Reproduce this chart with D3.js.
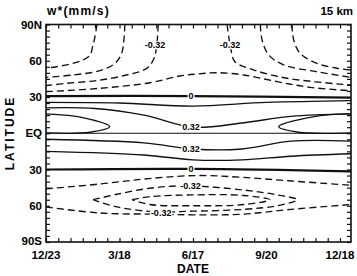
<!DOCTYPE html>
<html><head><meta charset="utf-8">
<script src="https://cdn.jsdelivr.net/npm/d3@7"></script>
<style>body{margin:0;background:#fff}svg{display:block}</style>
</head><body><svg id="c" width="357" height="276"></svg>
<script>
// x in months from 12/23 (0..12.45), y in latitude (deg, + = N)
const dateTicks = [0, 3, 6, 9, 12];
const dateLabels = ["12/23", "3/18", "6/17", "9/20", "12/18"];
const latTicks = [90, 60, 30, 0, -30, -60, -90];
const latLabels = ["90N", "60", "30", "EQ", "30", "60", "90S"];

// contour lines: [month, lat] pairs; neg = dashed
const cNa = [[2.08,90],[2.0,80],[1.9,71.5],[1.8,64.7],[1.51,60.6],[0.98,57.3],[0.29,54.6],[0,54]];
const cNb = [[3.22,90],[3.18,77.2],[3.09,66.2],[2.82,57.9],[2.2,51.8],[1.1,48.2],[0,46.3]];
const cNc = [[4.58,90],[4.54,77.2],[4.41,62],[4.11,53.7],[3.29,48.2],[2.2,44],[0.84,41.3],[0,39.4]];
const cNd = [[0,34.4],[2.2,37.2],[4.24,41.8],[5.47,47.4],[6.16,49],[6.98,50.1],[8.08,48.2],[9.43,42.7],[10.78,38],[12.45,35.2]];
const cNe = [[7.39,90],[7.46,79.9],[7.55,68.9],[7.71,59.2],[8.49,52.3],[9.84,45.5],[12.45,39.9]];
const cNf = [[8.75,90],[8.82,77.2],[9.09,64.8],[9.7,56.6],[11.06,50.9],[12.45,46.3]];
const cNg = [[10.04,90],[10.11,77.2],[10.37,66.2],[11.06,57.9],[11.88,53.8],[12.45,52.3]];
const cN0 = [[0,30.8],[6,30.8],[12.45,29.5]];
const cN1 = [[0,25.5],[3,25],[6,22.5],[9,25.5],[12.45,27]];
const cN2 = [[0,21],[2,20.5],[4,15],[6,5],[8,8.5],[10,14],[12.45,16]];
const cNl = [[0,16],[1.5,13],[2.6,5.5],[1.8,0.8],[0,0.3]];
const cNr = [[12.45,16],[11,14],[9.5,5.5],[10.3,0.8],[12.45,0.3]];
const cEQ = [[0,0],[12.45,0]];
const cS1 = [[0,-5],[4,-8],[6,-13],[8,-13],[10,-6.5],[12.45,-6.5]];
const cS2 = [[0,-15],[4,-18],[6,-22],[8,-22],[10,-19],[12.45,-17]];
const cS0 = [[0,-30],[6,-29.5],[12.45,-31.5]];
const cSa = [[0,-46],[2.2,-42],[4.2,-37.5],[6.2,-35],[8,-36.5],[10,-39.5],[12.45,-43]];
const cSb = [[1.92,-55],[2.9,-50.5],[4.24,-45.5],[5.7,-43.5],[8.08,-47],[9.43,-51],[10.25,-55],[9.43,-60],[8.08,-63],[6,-64.5],[4.5,-65],[2.9,-61],[1.92,-55]];
const cSc = [[3.51,-55],[4.24,-52.5],[6,-51],[8.08,-51.5],[9.14,-55],[8.08,-59],[6,-60],[4.24,-59],[3.51,-55]];
const cSd = [[0,-61],[2.2,-66],[4.5,-67],[6,-67.5],[8,-67],[10,-63],[12.45,-59]];

const contours = [
  {pts:cNa, neg:true}, {pts:cNb, neg:true}, {pts:cNc, neg:true}, {pts:cNd, neg:true},
  {pts:cNe, neg:true}, {pts:cNf, neg:true}, {pts:cNg, neg:true},
  {pts:cN0, neg:false, bold:true}, {pts:cN1, neg:false}, {pts:cN2, neg:false},
  {pts:cNl, neg:false}, {pts:cNr, neg:false}, {pts:cEQ, neg:false, thin:true},
  {pts:cS1, neg:false}, {pts:cS2, neg:false}, {pts:cS0, neg:false, bold:true},
  {pts:cSa, neg:true}, {pts:cSb, neg:true}, {pts:cSc, neg:true}, {pts:cSd, neg:true}
];
const labelText = ["-0.32", "-0.32", "0", "0.32", "0.32", "0", "-0.32", "-0.32"];
const labelPos = [[4.45,73],[7.51,73],[5.92,30.8],[5.92,5],[5.92,-13],[5.92,-29.8],[5.9,-43.5],[4.7,-65.5]];

const svg = d3.select("#c");
const x = d3.scaleLinear().domain([0, 12.45]).range([46, 351]);
const y = d3.scaleLinear().domain([90, -90]).range([24.5, 242]);
const font = "'Liberation Sans', Arial, sans-serif";

const line = d3.line().x(d => x(d[0])).y(d => y(d[1])).curve(d3.curveCatmullRom.alpha(0.5));
const g = svg.append("g");
g.append("clipPath").attr("id","clip").append("rect")
  .attr("x", 46).attr("y", 24.5).attr("width", 305).attr("height", 217.5);
const cg = g.append("g").attr("clip-path","url(#clip)");
contours.forEach(c => {
  cg.append("path").attr("d", line(c.pts)).attr("fill","none").attr("stroke","#111")
    .attr("stroke-width", c.bold ? 2.2 : (c.thin ? 1 : 1.35))
    .attr("stroke-dasharray", c.neg ? "7,4" : null);
});
// contour labels
labelText.forEach((t, i) => {
  const px = x(labelPos[i][0]), py = y(labelPos[i][1]);
  const tx = cg.append("text").attr("x", px).attr("y", py + 3.2)
    .attr("text-anchor","middle").attr("font-family", font).attr("font-weight","bold")
    .attr("font-size", 9).text(t);
  const bb = tx.node().getBBox();
  cg.insert("rect", () => tx.node()).attr("x", bb.x - 1).attr("y", bb.y + 1)
    .attr("width", bb.width + 2).attr("height", bb.height - 2).attr("fill","#fff");
});

// axes
const tickLen = 4;
const xa = d3.axisBottom(x).tickValues(d3.range(0, 12.01, 0.5)).tickSize(-tickLen).tickFormat("");
const xt = d3.axisTop(x).tickValues(d3.range(0, 12.01, 0.5)).tickSize(-tickLen).tickFormat("");
const yl = d3.axisLeft(y).tickValues(d3.range(-90, 90.1, 5)).tickSize(-tickLen).tickFormat("");
const yr = d3.axisRight(y).tickValues(d3.range(-90, 90.1, 5)).tickSize(-tickLen).tickFormat("");
[[xa,"translate(0,242)"],[xt,"translate(0,24.5)"],[yl,"translate(46,0)"],[yr,"translate(351,0)"]].forEach(([a,t]) => {
  const ag = svg.append("g").attr("transform", t).call(a);
  ag.select(".domain").remove();
  ag.selectAll("line").attr("stroke","#111").attr("stroke-width",1.2);
});
svg.append("rect").attr("x",46).attr("y",24.5).attr("width",305).attr("height",217.5)
  .attr("fill","none").attr("stroke","#111").attr("stroke-width",1.6);

svg.selectAll(".xl").data(dateTicks).enter().append("text")
  .attr("x", d => x(d)).attr("y", 258.5).attr("text-anchor","middle")
  .attr("font-family", font).attr("font-weight","bold").attr("font-size", 11.5)
  .text((d,i) => dateLabels[i]);
svg.selectAll(".yl").data(latTicks).enter().append("text")
  .attr("x", 42).attr("y", d => y(d) + (d === -90 ? 2.5 : 4)).attr("text-anchor","end")
  .attr("font-family", font).attr("font-weight","bold").attr("font-size", 11.5)
  .text((d,i) => latLabels[i]);

svg.append("text").attr("x",47).attr("y",15).attr("font-family",font).attr("font-weight","bold")
  .attr("font-size",12).attr("letter-spacing",1.2).text("w*(mm/s)");
svg.append("text").attr("x",353).attr("y",15).attr("text-anchor","end").attr("font-family",font)
  .attr("font-weight","bold").attr("font-size",11.5).text("15 km");
svg.append("text").attr("x",193).attr("y",273).attr("text-anchor","middle").attr("font-family",font)
  .attr("font-weight","bold").attr("font-size",12).text("DATE");
svg.append("text").attr("transform","translate(14,133) rotate(-90)").attr("text-anchor","middle")
  .attr("font-family",font).attr("font-weight","bold").attr("font-size",12)
  .attr("letter-spacing",2).text("LATITUDE");
</script></body></html>
